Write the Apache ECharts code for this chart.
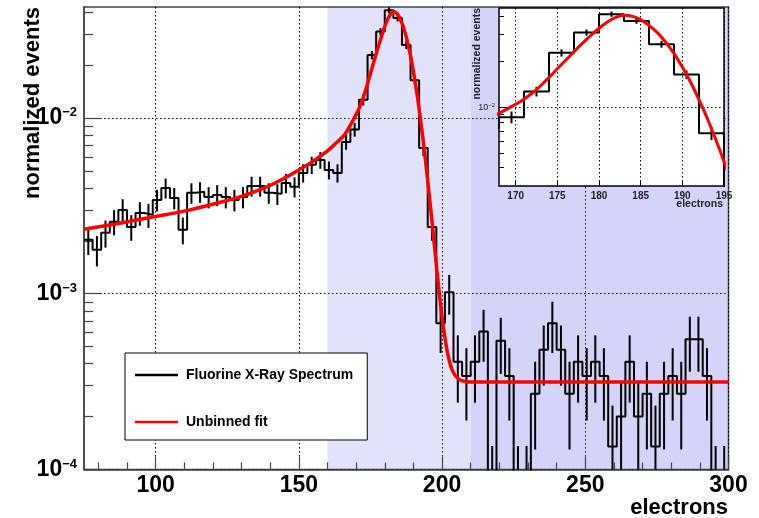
<!DOCTYPE html>
<html>
<head>
<meta charset="utf-8">
<script src="https://cdn.jsdelivr.net/npm/echarts@6/dist/echarts.min.js"></script>
<style>
  html, body { margin: 0; padding: 0; background: #fff; }
  #chart { width: 759px; height: 518px; }
</style>
</head>
<body>
<div id="chart"></div>
<script>
// histogram: bins 3 electrons wide, starting at 75
const binStart = 75
const binWidth = 3
const counts = [
  0.00203, 0.00178, 0.00222, 0.00257, 0.00300, 0.00240, 0.00288, 0.00281, 0.00342, 0.00400,
  0.00351, 0.00231, 0.00375, 0.00380, 0.00355, 0.00365, 0.00355, 0.00342, 0.00355, 0.00410,
  0.00410, 0.00375, 0.00370, 0.00427, 0.00406, 0.00487, 0.00541, 0.00577, 0.00506, 0.00487,
  0.00730, 0.00860, 0.01270, 0.02280, 0.03100, 0.04100, 0.03700, 0.02600, 0.01640, 0.00675,
  0.00240, 0.00068, 0.00102, 0.00041, 0.00034, 0.00041, 0.00061, 0.000068, 0.00054, 0.00034,
  0.000068, 0.000068, 0.00027, 0.00048, 0.00068, 0.00048, 0.00027, 0.00041, 0.00034, 0.00041,
  0.00034, 0.000135, 0.00020, 0.00041, 0.00020, 0.00027, 0.000135, 0.00027, 0.00034, 0.00027,
  0.00055, 0.00055, 0.00034, 0.000068, 0.000068
]
const errors = [
  0.00037, 0.00035, 0.00039, 0.00042, 0.00045, 0.00040, 0.00044, 0.00044, 0.00048, 0.00052,
  0.00049, 0.00040, 0.00050, 0.00051, 0.00049, 0.00050, 0.00049, 0.00048, 0.00049, 0.00053,
  0.00053, 0.00050, 0.00050, 0.00054, 0.00053, 0.00058, 0.00061, 0.00063, 0.00059, 0.00058,
  0.00071, 0.00077, 0.00093, 0.00125, 0.00145, 0.00165, 0.00159, 0.00133, 0.00106, 0.00068,
  0.00040, 0.00022, 0.00026, 0.00017, 0.00015, 0.00017, 0.00020, 0.000068, 0.00019, 0.00015,
  0.000068, 0.000068, 0.00014, 0.00018, 0.00022, 0.00018, 0.00014, 0.00017, 0.00015, 0.00017,
  0.00015, 0.000096, 0.00012, 0.00017, 0.00012, 0.00014, 0.000096, 0.00014, 0.00015, 0.00014,
  0.00019, 0.00019, 0.00015, 0.000068, 0.000068
]

// unbinned fit
const fitX = [75, 85, 100, 112, 124, 131, 139, 145, 150, 155, 160, 163, 166, 168, 169, 170, 171, 172,
  173, 174, 175, 176, 177, 178, 179, 180, 181, 182, 183, 184, 185, 186, 187, 188, 189, 190, 191, 192,
  193, 194, 195, 196, 197, 198, 199, 200, 201, 202, 203, 204, 205, 206, 208, 210, 230, 260, 300]
const fitY = [0.00233, 0.00248, 0.00275, 0.00300, 0.00336, 0.00363, 0.00407, 0.00455, 0.00506, 0.00568,
  0.00650, 0.00720, 0.00805, 0.00912, 0.00975, 0.01045, 0.01130, 0.01240, 0.01385, 0.01570, 0.01790,
  0.02040, 0.02320, 0.02630, 0.02960, 0.03310, 0.03640, 0.03900, 0.04030, 0.03970, 0.03770, 0.03460,
  0.03100, 0.02680, 0.02260, 0.01840, 0.01460, 0.01120, 0.00843, 0.00615, 0.00439, 0.00307, 0.00213,
  0.00146, 0.00102, 0.000740, 0.000562, 0.000453, 0.000390, 0.000355, 0.000336, 0.000325, 0.000317,
  0.000315, 0.000315, 0.000315, 0.000315]

const shadeRanges = [[160, 210], [210, 300]]

const xLabels = [100, 150, 200, 250, 300]
const xMinorTicks = [80, 90, 110, 120, 130, 140, 160, 170, 180, 190, 210, 220, 230, 240, 260, 270, 280, 290]
const yLabels = [0.0001, 0.001, 0.01]
const yMinorTicks = [0.0002, 0.0003, 0.0004, 0.0005, 0.0006, 0.0007, 0.0008, 0.0009,
  0.002, 0.003, 0.004, 0.005, 0.006, 0.007, 0.008, 0.009, 0.02, 0.03, 0.04]

const insetXLabels = [170, 175, 180, 185, 190, 195]
const insetYLabels = [0.01]
const insetYMinorTicks = [0.004, 0.005, 0.006, 0.007, 0.008, 0.009, 0.02, 0.03, 0.04]

const FONT = '"Liberation Sans", Arial, Helvetica, sans-serif'

const histPoints = counts.map((v, i) => [binStart + i * binWidth, v])
histPoints.push([binStart + counts.length * binWidth, counts[counts.length - 1]])
const errPoints = counts.map((v, i) => [binStart + (i + 0.5) * binWidth, v, errors[i]])
const fitPoints = fitX.map((x, i) => [x, fitY[i]])

function powLabel(v) {
  return '{b|10}{s|\u2212' + Math.round(-Math.log10(v)) + '}'
}

function renderErrorBar(params, api) {
  const cs = params.coordSys
  const x = api.value(0), v = api.value(1), e = api.value(2)
  const hi = api.coord([x, v + e])
  if (hi[0] < cs.x || hi[0] > cs.x + cs.width) return
  const yBottom = cs.y + cs.height
  const lo = v - e > 0 ? api.coord([x, v - e])[1] : yBottom
  const y1 = Math.max(hi[1], cs.y)
  const y2 = Math.min(lo, yBottom)
  if (y1 >= y2) return
  return {
    type: 'line',
    shape: { x1: hi[0], y1: y1, x2: hi[0], y2: y2 },
    style: { stroke: '#000', lineWidth: 2 }
  }
}

const shadeColors = ['#e2e2fa', '#d4d4fa']
function renderShade(params, api) {
  const cs = params.coordSys
  const x0 = api.coord([api.value(0), 0.01])[0]
  const x1 = api.coord([api.value(1), 0.01])[0]
  return {
    type: 'rect',
    shape: { x: x0, y: cs.y, width: x1 - x0, height: cs.height },
    style: { fill: shadeColors[params.dataIndex] }
  }
}

const myChart = echarts.init(document.getElementById('chart'))
const option = {
  animation: false,
  textStyle: { fontFamily: FONT },
  grid: [
    { left: 84, top: 7, width: 644.5, height: 462.5, show: true, borderColor: '#444', borderWidth: 1.5, z: 1 },
    { left: 499, top: 8, width: 225, height: 178, show: true, backgroundColor: '#fff', borderColor: '#000', borderWidth: 1.5, z: 10 }
  ],
  xAxis: [
    {
      gridIndex: 0, type: 'value', min: 75, max: 300, z: 1,
      axisLine: { show: true, lineStyle: { color: '#444', width: 1.5 } },
      axisTick: { show: true, inside: true, length: 7, customValues: xMinorTicks, lineStyle: { color: '#444', width: 1.2 } },
      axisLabel: { show: false },
      splitLine: { show: false }
    },
    {
      gridIndex: 0, type: 'value', min: 75, max: 300, position: 'bottom', z: 1,
      axisLine: { show: false },
      axisTick: { show: true, inside: true, length: 13, customValues: xLabels, lineStyle: { color: '#444', width: 1.2 } },
      axisLabel: { show: true, customValues: xLabels, margin: 5, color: '#000', fontSize: 23, fontWeight: 'bold', fontFamily: FONT },
      splitLine: { show: true, lineStyle: { color: '#000', width: 1, type: [1.5, 2.5] } }
    },
    {
      gridIndex: 1, type: 'value', min: 168, max: 195, z: 11,
      axisLine: { show: false },
      axisTick: { show: true, inside: true, length: 5, customValues: insetXLabels, lineStyle: { color: '#000' } },
      axisLabel: { show: true, customValues: insetXLabels, margin: 5, color: '#222', fontSize: 10, fontWeight: 'bold', fontFamily: FONT },
      splitLine: { show: true, lineStyle: { color: '#000', width: 1, type: [1.5, 2.5] } }
    }
  ],
  yAxis: [
    {
      gridIndex: 0, type: 'log', logBase: 10, min: 0.0001, max: 0.0428, position: 'left', z: 1,
      axisLine: { show: true, lineStyle: { color: '#444', width: 1.5 } },
      axisTick: { show: true, inside: true, length: 9, customValues: yMinorTicks, lineStyle: { color: '#444', width: 1.2 } },
      axisLabel: { show: false },
      splitLine: { show: false }
    },
    {
      gridIndex: 0, type: 'log', logBase: 10, min: 0.0001, max: 0.0428, position: 'left', z: 1,
      axisLine: { show: false },
      axisTick: { show: true, inside: true, length: 16, customValues: yLabels, lineStyle: { color: '#444', width: 1.2 } },
      axisLabel: {
        show: true, customValues: yLabels, margin: 7, color: '#000', formatter: powLabel,
        rich: {
          b: { fontSize: 23, fontWeight: 'bold', fontFamily: FONT, color: '#000', lineHeight: 24 },
          s: { fontSize: 13, fontWeight: 'bold', fontFamily: FONT, color: '#000', verticalAlign: 'top', lineHeight: 13 }
        }
      },
      splitLine: { show: true, lineStyle: { color: '#000', width: 1, type: [1.5, 2.5] } }
    },
    {
      gridIndex: 1, type: 'log', logBase: 10, min: 0.00303, max: 0.045, position: 'left', z: 11,
      axisLine: { show: false },
      axisTick: { show: true, inside: true, length: 8, customValues: insetYLabels, lineStyle: { color: '#000' } },
      axisLabel: {
        show: true, customValues: insetYLabels, margin: 4, formatter: powLabel,
        rich: {
          b: { fontSize: 9, fontFamily: FONT, color: '#222', lineHeight: 10 },
          s: { fontSize: 6, fontFamily: FONT, color: '#222', verticalAlign: 'top', lineHeight: 6 }
        }
      },
      splitLine: { show: true, lineStyle: { color: '#000', width: 1, type: [1.5, 2.5] } }
    },
    {
      gridIndex: 1, type: 'log', logBase: 10, min: 0.00303, max: 0.045, position: 'left', z: 11,
      axisLine: { show: false },
      axisTick: { show: true, inside: true, length: 5, customValues: insetYMinorTicks, lineStyle: { color: '#000' } },
      axisLabel: { show: false },
      splitLine: { show: false }
    }
  ],
  legend: {
    left: 125, top: 353, orient: 'vertical',
    icon: 'rect', itemWidth: 43, itemHeight: 2.5, itemGap: 33,
    padding: [15, 14, 11, 10],
    backgroundColor: '#fff', borderColor: '#000', borderWidth: 1,
    textStyle: { fontSize: 14, fontWeight: 'bold', color: '#000', fontFamily: FONT, padding: [0, 0, 0, 3] },
    data: ['Fluorine X-Ray Spectrum', 'Unbinned fit']
  },
  series: [
    {
      name: 'shade', type: 'custom', xAxisIndex: 0, yAxisIndex: 0, z: 0, silent: true,
      encode: { x: [0, 1] },
      data: shadeRanges,
      renderItem: renderShade
    },
    {
      name: 'Fluorine X-Ray Spectrum', type: 'line', xAxisIndex: 0, yAxisIndex: 0, z: 2,
      step: 'end', symbol: 'none', data: histPoints,
      lineStyle: { color: '#000', width: 2 }, itemStyle: { color: '#000' }
    },
    {
      name: 'errors', type: 'custom', xAxisIndex: 0, yAxisIndex: 0, z: 2,
      encode: { x: 0, y: 1 }, data: errPoints, renderItem: renderErrorBar
    },
    {
      name: 'Unbinned fit', type: 'line', xAxisIndex: 0, yAxisIndex: 0, z: 3,
      smooth: 0.35, symbol: 'none', data: fitPoints,
      lineStyle: { color: '#ff0000', width: 3.5 }, itemStyle: { color: '#ff0000' }
    },
    {
      name: 'inset histogram', type: 'line', xAxisIndex: 2, yAxisIndex: 2, z: 12,
      step: 'end', symbol: 'none', data: histPoints,
      lineStyle: { color: '#000', width: 2 }
    },
    {
      name: 'inset errors', type: 'custom', xAxisIndex: 2, yAxisIndex: 2, z: 12,
      encode: { x: 0, y: 1 }, data: errPoints, renderItem: renderErrorBar
    },
    {
      name: 'inset fit', type: 'line', xAxisIndex: 2, yAxisIndex: 2, z: 13,
      smooth: 0.35, symbol: 'none', data: fitPoints,
      lineStyle: { color: '#ff0000', width: 3 }
    }
  ],
  graphic: [
    {
      type: 'text', x: 33, y: 7, rotation: Math.PI / 2, z: 20,
      style: { text: 'normalized events', align: 'right', verticalAlign: 'middle', fontSize: 22, fontWeight: 'bold', fontFamily: FONT, fill: '#000' }
    },
    {
      type: 'text', x: 728, y: 508, z: 20,
      style: { text: 'electrons', align: 'right', verticalAlign: 'middle', fontSize: 22, fontWeight: 'bold', fontFamily: FONT, fill: '#000' }
    },
    {
      type: 'text', x: 477, y: 8, rotation: Math.PI / 2, z: 20,
      style: { text: 'normalized events', align: 'right', verticalAlign: 'middle', fontSize: 10.5, fontWeight: 'bold', fontFamily: FONT, fill: '#222' }
    },
    {
      type: 'text', x: 723, y: 204, z: 20,
      style: { text: 'electrons', align: 'right', verticalAlign: 'middle', fontSize: 10.5, fontWeight: 'bold', fontFamily: FONT, fill: '#222' }
    }
  ]
}
myChart.setOption(option)
</script>
</body>
</html>
